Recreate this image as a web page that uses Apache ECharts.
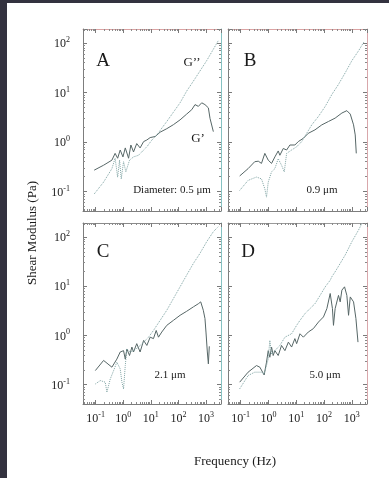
<!DOCTYPE html>
<html><head><meta charset="utf-8">
<script src="https://cdn.jsdelivr.net/npm/echarts@6/dist/echarts.min.js"></script>
<style>
html,body{margin:0;padding:0;background:#33323f;width:389px;height:478px;overflow:hidden;}
#paper{position:absolute;left:7px;top:3px;width:382px;height:475px;background:#fff;}
#chart{position:absolute;left:0;top:0;width:389px;height:478px;}
</style></head><body>
<div id="paper"></div><div id="chart"></div>
<script>
// ---- data (frequency in Hz, modulus in Pa) ----
const panelLetters = ['A', 'B', 'C', 'D'];
const diameterLabels = ['Diameter: 0.5 μm', '0.9 μm', '2.1 μm', '5.0 μm'];
const xTickValues = [0.1, 1, 10, 100, 1000];
const yTickValues = [0.1, 1, 10, 100];
const xRange = [0.035, 3500];
const yRange = [0.0404, 192];

const gPrimeA = [[0.089,0.27],[0.195,0.34],[0.39,0.43],[0.51,0.59],[0.63,0.47],[0.78,0.69],[0.98,0.50],[1.19,0.76],[1.57,0.47],[1.9,0.87],[2.37,0.63],[3.1,0.93],[4.1,0.76],[5.5,1.02],[7.2,1.1],[9.5,1.23],[14.4,1.29],[21.8,1.58],[38,1.86],[66,2.24],[115,2.8],[200,3.67],[305,4.5],[400,5.7],[530,5.25],[700,6.2],[920,5.7],[1220,4.9],[1400,3.0],[1850,1.62]];
const gDoublePrimeA = [[0.089,0.089],[0.195,0.155],[0.39,0.29],[0.51,0.47],[0.63,0.195],[0.74,0.43],[0.85,0.18],[1.03,0.40],[1.25,0.25],[1.7,0.43],[2.37,0.5],[3.6,0.54],[5.5,0.69],[7.2,0.8],[11,1.1],[16.6,1.38],[25,1.9],[38,2.6],[66,4.0],[115,6.2],[200,10.7],[350,17],[600,27],[1060,44],[1850,75],[2800,112]];

const gPrimeB = [[0.092,0.206],[0.185,0.29],[0.32,0.40],[0.43,0.41],[0.56,0.37],[0.74,0.59],[0.98,0.43],[1.29,0.37],[1.7,0.50],[2.24,0.66],[2.57,0.54],[3.4,0.74],[4.5,0.69],[5.9,0.87],[8.9,0.87],[11.8,1.02],[18,1.19],[27,1.5],[47,1.76],[83,2.22],[144,2.6],[250,3.04],[437,3.85],[660,4.3],[875,3.67],[1150,2.22],[1320,1.39],[1440,0.59]];
const gDoublePrimeB = [[0.092,0.105],[0.185,0.168],[0.37,0.196],[0.56,0.18],[0.74,0.113],[0.85,0.077],[0.98,0.155],[1.29,0.25],[1.7,0.29],[2.24,0.46],[2.95,0.34],[3.7,0.25],[4.5,0.59],[6.8,0.69],[10.3,0.80],[15.7,1.02],[23.7,1.5],[36,2.22],[63,3.3],[110,5.25],[190,9.1],[330,14.6],[575,25],[1000,44],[1750,70],[2650,103]];

const gPrimeC = [[0.098,0.193],[0.195,0.31],[0.39,0.226],[0.59,0.33],[0.78,0.46],[1.03,0.49],[1.19,0.33],[1.36,0.53],[1.7,0.39],[2.07,0.58],[2.37,0.46],[3.1,0.68],[4.1,0.46],[5.5,0.79],[7.2,0.625],[9.5,0.92],[12.5,0.86],[15.7,1.26],[19,0.92],[25,1.17],[38,1.6],[66,2.02],[115,2.56],[200,3.09],[350,3.8],[530,4.4],[645,4.8],[800,3.24],[920,2.19],[1000,1.17],[1120,0.46],[1220,0.264],[1320,0.6]];
const gDoublePrimeC = [[0.098,0.103],[0.148,0.121],[0.224,0.112],[0.257,0.070],[0.34,0.13],[0.45,0.193],[0.59,0.286],[0.78,0.209],[0.90,0.112],[1.03,0.082],[1.19,0.244],[1.36,0.53],[1.8,0.46],[2.37,0.49],[3.6,0.58],[5.5,0.73],[8.3,0.92],[12.5,1.26],[21.8,2.02],[38,3.24],[66,5.6],[115,9.7],[200,16.8],[350,29],[600,46],[1060,80],[1850,128],[2800,162]];

const gPrimeD = [[0.092,0.112],[0.185,0.179],[0.37,0.244],[0.49,0.226],[0.70,0.157],[0.85,0.286],[0.98,0.49],[1.12,0.36],[1.29,0.58],[1.48,0.39],[1.7,0.49],[2.24,0.39],[2.95,0.625],[3.9,0.49],[5.2,0.73],[6.8,0.58],[8.9,0.86],[10.3,0.68],[13.6,1.08],[18,0.92],[27,1.17],[41,1.37],[63,1.87],[95,2.37],[126,3.5],[166,7.1],[200,3.5],[218,1.6],[250,3.5],[330,6.5],[380,4.8],[437,8.3],[545,9.7],[660,6.5],[760,2.56],[875,6.05],[1150,4.8],[1400,2.19],[1660,0.73]];
const gDoublePrimeD = [[0.092,0.082],[0.185,0.153],[0.32,0.179],[0.56,0.179],[0.70,0.165],[0.98,0.33],[1.12,0.79],[1.29,0.42],[1.7,0.49],[2.57,0.625],[3.9,0.92],[6.8,1.08],[10.3,1.6],[13.6,2.02],[20.6,2.77],[31,3.5],[47,4.4],[72,6.5],[110,9.7],[166,13.2],[190,15.5],[250,19.6],[380,29],[575,43],[1000,80],[1750,139],[2300,190]];

const gPrimeSets = [gPrimeA, gPrimeB, gPrimeC, gPrimeD];
const gDoublePrimeSets = [gDoublePrimeA, gDoublePrimeB, gDoublePrimeC, gDoublePrimeD];

// ---- layout / style ----
const FONT = '"Liberation Serif", "Times New Roman", serif';
const grids = [
  {left: 83, top: 29, width: 138, height: 182},
  {left: 228, top: 29, width: 139, height: 182},
  {left: 83, top: 223, width: 138, height: 181},
  {left: 228, top: 223, width: 139, height: 181}
];
const topColors = ['#dba3a3', '#dba3a3', '#8a8a8a', '#9a9a9a'];
const rightColors = ['#86c2c2', '#d9a7ab', '#86c2c2', '#d9a7ab'];

function pow10Label(v) {
  const e = Math.round(Math.log10(v));
  return '{b|10}{s|' + e + '}';
}
const rich = {
  b: {fontFamily: FONT, fontSize: 12, color: '#222', verticalAlign: 'bottom'},
  s: {fontFamily: FONT, fontSize: 8, color: '#222', verticalAlign: 'bottom', padding: [0, 0, 6, 0]}
};

function axisBase(range, gridIndex, position, showLabel, lineColor, margin) {
  return {
    type: 'log', logBase: 10, gridIndex, position,
    min: range[0], max: range[1],
    axisLine: {show: true, onZero: false, lineStyle: {color: lineColor, width: 1}},
    axisTick: {show: true, inside: true, length: 4, lineStyle: {color: '#7a7a7a', width: 1}},
    minorTick: {show: true, splitNumber: 9, length: 2, lineStyle: {color: '#8a8a8a', width: 1}},
    splitLine: {show: false}, minorSplitLine: {show: false},
    axisLabel: {show: showLabel, formatter: pow10Label, rich, margin: margin,
      showMinLabel: false, showMaxLabel: false}
  };
}

const xAxis = [], yAxis = [], series = [];
grids.forEach((g, i) => {
  xAxis.push(axisBase(xRange, i, 'bottom', i >= 2, '#7d7d7d', 7));
  xAxis.push(axisBase(xRange, i, 'top', false, topColors[i], 7));
  yAxis.push(axisBase(yRange, i, 'left', i % 2 === 0, '#7d7d7d', 13));
  yAxis.push(axisBase(yRange, i, 'right', false, rightColors[i], 13));
  series.push({
    type: 'line', name: "G'", xAxisIndex: 2 * i, yAxisIndex: 2 * i,
    data: gPrimeSets[i], showSymbol: false, symbol: 'none', clip: true,
    lineStyle: {color: '#566666', width: 1}
  });
  series.push({
    type: 'line', name: "G''", xAxisIndex: 2 * i, yAxisIndex: 2 * i,
    data: gDoublePrimeSets[i], showSymbol: false, symbol: 'none', clip: true,
    lineStyle: {color: '#7fa3a3', width: 1, type: 'dotted'}
  });
});

function txt(text, x, y, size, extra) {
  return Object.assign({type: 'text', x, y, silent: true,
    style: {text, font: size + 'px ' + FONT, fill: '#1a1a1a', align: 'center', verticalAlign: 'middle'}}, extra || {});
}
const letterPos = [[103, 61], [250, 61], [103, 252], [248, 252]];
const diamPos = [[172, 190], [322, 190], [170, 375], [325, 375]];
const graphics = [];
panelLetters.forEach((L, i) => graphics.push(txt(L, letterPos[i][0], letterPos[i][1], 19)));
diameterLabels.forEach((L, i) => graphics.push(txt(L, diamPos[i][0], diamPos[i][1], 11)));
graphics.push(txt('G’’', 192, 63, 13));
graphics.push(txt('G’', 198, 139, 13));
graphics.push(txt('Frequency (Hz)', 235, 462, 13));
graphics.push(txt('Shear Modulus (Pa)', 33, 233, 13, {rotation: Math.PI / 2}));

const chart = echarts.init(document.getElementById('chart'), null, {renderer: 'canvas'});
chart.setOption({
  backgroundColor: 'transparent',
  animation: false,
  grid: grids.map(g => Object.assign({containLabel: false}, g)),
  xAxis, yAxis, series,
  graphic: graphics
});
</script></body></html>
